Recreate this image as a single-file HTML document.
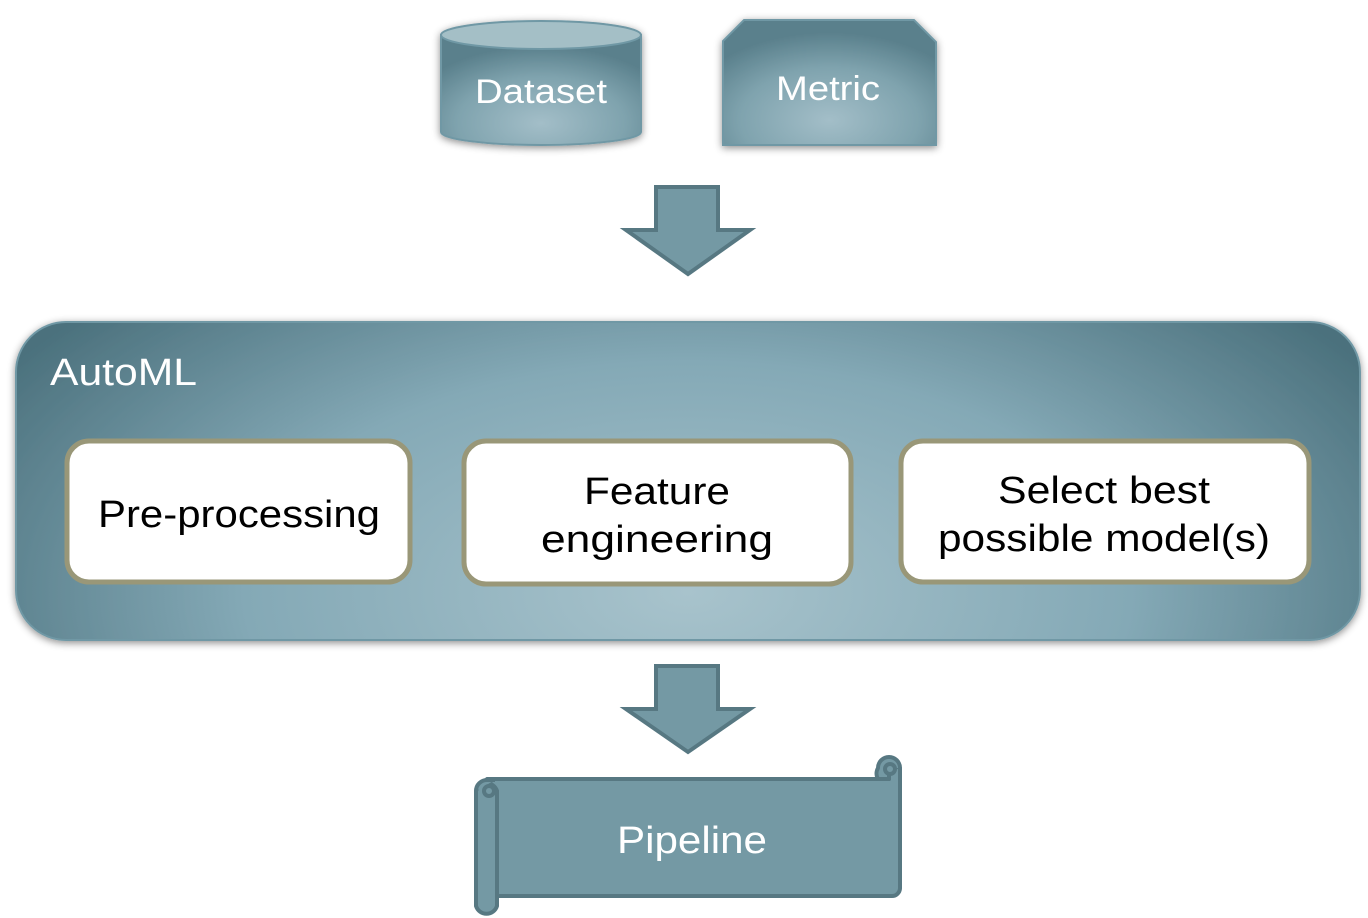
<!DOCTYPE html>
<html><head><meta charset="utf-8"><style>html,body{margin:0;padding:0;background:#fff;}svg{display:block}</style></head>
<body>
<svg width="1368" height="918" viewBox="0 0 1368 918" xmlns="http://www.w3.org/2000/svg" font-family="'Liberation Sans', sans-serif">
<defs>
<radialGradient id="g1" cx="0.5" cy="0.85" r="0.6" gradientTransform="translate(0.5 0.85) scale(1 2.2) translate(-0.5 -0.85)">
<stop offset="0" stop-color="#a8c3cc"/><stop offset="0.55" stop-color="#84a9b6"/><stop offset="1" stop-color="#4b717d"/>
</radialGradient>
<radialGradient id="g2" cx="0.5" cy="0.8" r="0.7">
<stop offset="0" stop-color="#a3bec8"/><stop offset="0.6" stop-color="#7fa3ae"/><stop offset="1" stop-color="#5a808c"/>
</radialGradient>
<filter id="sh" x="-10%" y="-10%" width="120%" height="130%"><feDropShadow dx="0" dy="2" stdDeviation="4" flood-color="#000" flood-opacity="0.45"/></filter>
</defs>
<!-- Dataset cylinder -->
<g filter="url(#sh)">
<path d="M441 35 L441 132 A100 13 0 0 0 641 132 L641 35 Z" fill="url(#g2)" stroke="#6f98a5" stroke-width="2"/>
<ellipse cx="541" cy="35" rx="100" ry="14" fill="#a4bfc6" stroke="#6f98a5" stroke-width="2"/>
</g>
<text x="541" y="103" font-size="34" fill="#fff" text-anchor="middle" textLength="132" lengthAdjust="spacingAndGlyphs">Dataset</text>
<!-- Metric -->
<path d="M744 20 L914 20 L936 42 L936 145 L723 145 L723 41 Z" fill="url(#g2)" stroke="#6f98a5" stroke-width="2" filter="url(#sh)"/>
<text x="828" y="100" font-size="34" fill="#fff" text-anchor="middle" textLength="104" lengthAdjust="spacingAndGlyphs">Metric</text>
<!-- arrow 1 -->
<path d="M656 187 L718 187 L718 230 L750 230 L688 274 L626 230 L656 230 Z" fill="#7499a4" stroke="#577882" stroke-width="4"/>
<!-- AutoML container -->
<rect x="16" y="322" width="1344" height="318" rx="50" fill="url(#g1)" stroke="#6f98a5" stroke-width="2" filter="url(#sh)"/>
<text x="50" y="385" font-size="38" fill="#fff" textLength="147" lengthAdjust="spacingAndGlyphs">AutoML</text>
<rect x="67" y="441" width="343" height="141" rx="22" fill="#fff" stroke="#999778" stroke-width="5"/>
<text x="239" y="527" font-size="38" fill="#000" text-anchor="middle" textLength="282" lengthAdjust="spacingAndGlyphs">Pre-processing</text>
<rect x="464" y="441" width="387" height="143" rx="22" fill="#fff" stroke="#999778" stroke-width="5"/>
<text x="657" y="504" font-size="38" fill="#000" text-anchor="middle" textLength="146" lengthAdjust="spacingAndGlyphs">Feature</text>
<text x="657" y="552" font-size="38" fill="#000" text-anchor="middle" textLength="232" lengthAdjust="spacingAndGlyphs">engineering</text>
<rect x="901" y="441" width="408" height="141" rx="22" fill="#fff" stroke="#999778" stroke-width="5"/>
<text x="1104" y="503" font-size="38" fill="#000" text-anchor="middle" textLength="212" lengthAdjust="spacingAndGlyphs">Select best</text>
<text x="1104" y="551" font-size="38" fill="#000" text-anchor="middle" textLength="332" lengthAdjust="spacingAndGlyphs">possible model(s)</text>
<!-- arrow 2 -->
<path d="M656 666 L718 666 L718 709 L750 709 L688 752 L626 709 L656 709 Z" fill="#7499a4" stroke="#577882" stroke-width="4"/>
<!-- scroll -->
<g fill="#7499a4" stroke="#577882" stroke-width="4" stroke-linejoin="round">
<path d="M487 779 L889 779 L889 768 A11 11 0 0 1 900 768 L900 888 A8 8 0 0 1 892 896 L497 896 L497 791 Z"/>
<path d="M889 768 L889 779 L878 779 A11 11 0 0 1 878 768 A11 11 0 0 1 900 768"/>
<path d="M476 791 A11 11 0 0 1 497 791 L497 906 A11 11 0 0 1 476 906 Z"/>
<path d="M476 791 A11 11 0 0 1 487 780 L495 780"/>
<circle cx="489" cy="791" r="5"/>
<circle cx="890" cy="769" r="5"/>
</g>
<text x="692" y="853" font-size="38" fill="#fff" text-anchor="middle" textLength="150" lengthAdjust="spacingAndGlyphs">Pipeline</text>
</svg>
</body></html>
